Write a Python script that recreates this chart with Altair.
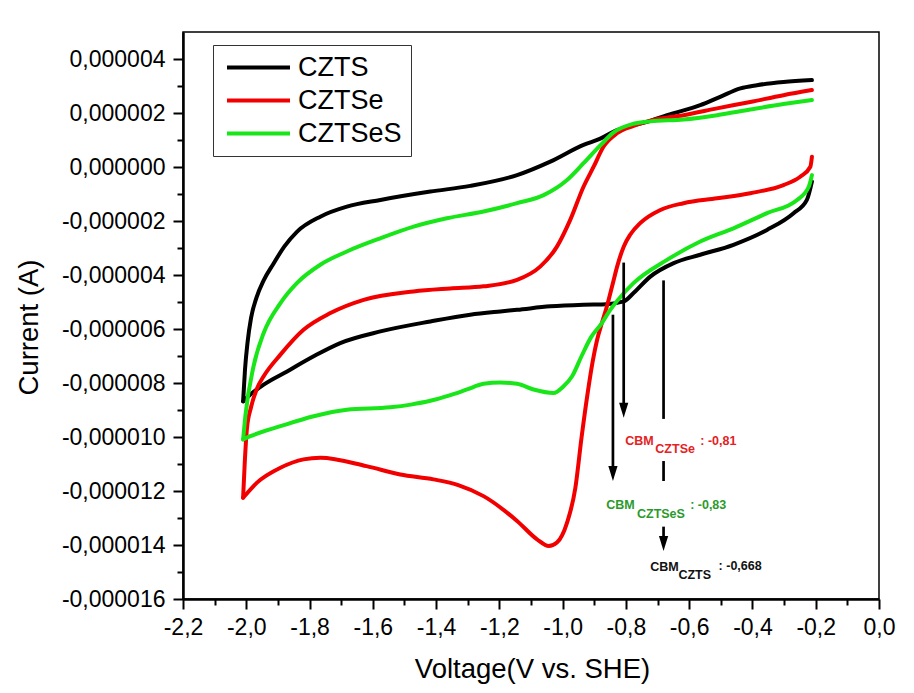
import altair as alt
import pandas as pd

# ---------------- data (current in microampere, voltage in V vs SHE) ----------------
series_names = ["CZTS", "CZTSe", "CZTSeS"]
series_colors = ["#000000", "#f20000", "#19e619"]

czts_fwd_v = [-2.01, -2.004, -1.996, -1.985, -1.968, -1.945, -1.915, -1.88, -1.84, -1.766, -1.682, -1.576,
              -1.418, -1.292, -1.144, -1.039, -0.934, -0.881, -0.828, -0.776, -0.72, -0.67, -0.565, -0.502,
              -0.438, -0.386, -0.302, -0.212]
czts_fwd_i = [-8.68, -7.5, -6.5, -5.6, -4.85, -4.2, -3.6, -2.95, -2.4, -1.84, -1.47, -1.22,
              -0.91, -0.7, -0.3, 0.2, 0.82, 1.05, 1.37, 1.55, 1.72, 1.92, 2.29, 2.6,
              2.91, 3.03, 3.15, 3.22]
czts_rev_v = [-0.212, -0.228, -0.27, -0.354, -0.46, -0.565, -0.649, -0.723, -0.776, -0.807, -0.86, -0.934,
              -1.039, -1.144, -1.197, -1.292, -1.418, -1.576, -1.703, -1.787, -1.871, -1.945, -1.993, -2.01]
czts_rev_i = [-0.54, -1.22, -1.71, -2.33, -2.88, -3.25, -3.56, -4.06, -4.67, -4.98, -5.08, -5.1,
              -5.16, -5.29, -5.35, -5.47, -5.72, -6.09, -6.52, -7.01, -7.57, -8.06, -8.49, -8.68]

cztse_fwd_v = [-2.01, -2.005, -1.998, -1.985, -1.966, -1.945, -1.892, -1.819, -1.734, -1.629, -1.471, -1.355,
               -1.25, -1.144, -1.071, -1.018, -0.976, -0.934, -0.902, -0.871, -0.828, -0.776, -0.723, -0.618,
               -0.512, -0.407, -0.302, -0.212]
cztse_fwd_i = [-12.25, -11.0, -9.7, -8.9, -8.2, -7.75, -6.95, -6.03, -5.41, -4.92, -4.61, -4.5,
               -4.42, -4.18, -3.69, -2.95, -1.96, -0.73, 0.01, 0.75, 1.25, 1.52, 1.72, 1.92,
               2.17, 2.41, 2.66, 2.85]
cztse_rev_v = [-0.212, -0.217, -0.249, -0.302, -0.407, -0.512, -0.618, -0.691, -0.755, -0.786, -0.807, -0.828,
               -0.839, -0.86, -0.876, -0.891, -0.905, -0.92, -0.94, -0.96, -0.986, -1.018, -1.044, -1.081,
               -1.144, -1.25, -1.33, -1.408, -1.513, -1.62, -1.766, -1.819, -1.892, -1.966, -2.01]
cztse_rev_i = [0.38, 0.01, -0.36, -0.67, -0.97, -1.16, -1.34, -1.59, -2.08, -2.5, -2.95, -3.7,
               -4.2, -5.16, -5.78, -6.4, -7.2, -8.3, -10.0, -11.9, -13.17, -13.91, -14.04, -13.79,
               -13.11, -12.19, -11.78, -11.57, -11.39, -11.08, -10.77, -10.83, -11.14, -11.69, -12.25]

cztses_fwd_v = [-2.01, -2.003, -1.977, -1.945, -1.892, -1.84, -1.766, -1.682, -1.576, -1.471, -1.366, -1.25,
                -1.144, -1.06, -0.986, -0.934, -0.881, -0.839, -0.776, -0.723, -0.618, -0.512, -0.407, -0.302,
                -0.212]
cztses_fwd_i = [-10.09, -9.23, -7.38, -6.15, -5.04, -4.3, -3.62, -3.13, -2.64, -2.21, -1.9, -1.65,
                -1.34, -1.04, -0.48, 0.14, 0.8, 1.28, 1.6, 1.69, 1.76, 1.92, 2.13, 2.33,
                2.48]
cztses_rev_v = [-0.212, -0.222, -0.259, -0.354, -0.46, -0.565, -0.67, -0.776, -0.82, -0.85, -0.876, -0.91,
                -0.94, -0.97, -0.997, -1.029, -1.092, -1.144, -1.197, -1.25, -1.302, -1.36, -1.418, -1.48,
                -1.545, -1.682, -1.787, -1.892, -1.987, -2.01]
cztses_rev_i = [-0.3, -0.73, -1.22, -1.71, -2.27, -2.76, -3.44, -4.3, -4.85, -5.3, -5.78, -6.3,
                -7.0, -7.75, -8.12, -8.37, -8.24, -8.03, -7.98, -8.03, -8.24, -8.47, -8.66, -8.8,
                -8.9, -8.99, -9.23, -9.6, -9.97, -10.09]

# axis ticks
x_major = [-2.2, -2.0, -1.8, -1.6, -1.4, -1.2, -1.0, -0.8, -0.6, -0.4, -0.2, 0.0]
x_minor = [-2.1, -1.9, -1.7, -1.5, -1.3, -1.1, -0.9, -0.7, -0.5, -0.3, -0.1]
y_major_ua = [-16, -14, -12, -10, -8, -6, -4, -2, 0, 2, 4]
y_minor_ua = [-15, -13, -11, -9, -7, -5, -3, -1, 1, 3]

# annotation arrows (x in V, currents in microampere)
shaft_x = [-0.807, -0.841, -0.681, -0.681, -0.681]
shaft_top = [-3.54, -5.47, -4.20, -10.89, -13.32]
shaft_bottom = [-9.0, -11.35, -9.33, -11.63, -13.95]
head_x = [-0.807, -0.841, -0.681]
head_tip = [-9.29, -11.63, -14.22]

# annotation labels
label_text = ["CBM", "CZTSe", ": -0,81",
              "CBM", "CZTSeS", ": -0,83",
              "CBM", "CZTS", ": -0,668"]
label_x = [-0.802, -0.707, -0.565,
           -0.862, -0.765, -0.597,
           -0.723, -0.634, -0.507]
label_y = [-10.30, -10.58, -10.28,
           -12.68, -12.99, -12.65,
           -14.96, -15.27, -14.92]
label_color = ["#e4221f"] * 3 + ["#2b9a2b"] * 3 + ["#111111"] * 3

# ---------------- build tables ----------------
rows = []
curves = [
    ("CZTS", czts_fwd_v, czts_fwd_i, czts_rev_v, czts_rev_i),
    ("CZTSe", cztse_fwd_v, cztse_fwd_i, cztse_rev_v, cztse_rev_i),
    ("CZTSeS", cztses_fwd_v, cztses_fwd_i, cztses_rev_v, cztses_rev_i),
]
for name, fv, fi, rv, ri in curves:
    for v, i in zip(fv, fi):
        rows.append({"series": name, "branch": name + "_fwd", "V": v, "I": i * 1e-6})
    for v, i in zip(rv, ri):
        rows.append({"series": name, "branch": name + "_rev", "V": v, "I": i * 1e-6})
df = pd.DataFrame(rows)

shafts = pd.DataFrame({"x": shaft_x, "y1": [v * 1e-6 for v in shaft_top],
                       "y2": [v * 1e-6 for v in shaft_bottom]})
heads = pd.DataFrame({"x": head_x, "y": [v * 1e-6 for v in head_tip]})
labels = pd.DataFrame({"x": label_x, "y": [v * 1e-6 for v in label_y],
                       "t": label_text, "c": label_color})

FONT = "Liberation Sans"
xdom = [-2.2, 0.0]
ydom = [-16e-6, 5e-6]
xscale = alt.Scale(domain=xdom, nice=False, zero=False)
yscale = alt.Scale(domain=ydom, nice=False, zero=False)

x_major_axis = alt.Axis(
    values=x_major, orient="bottom",
    labelExpr="replace(replace(format(datum.value, '.1f'), '.', ','), '−', '-')",
    tickSize=10, tickWidth=2, tickColor="black",
    domainWidth=2.5, domainColor="black",
    labelFont=FONT, labelFontSize=23, labelColor="black", labelPadding=7,
    labelFlush=False, labelOverlap=False,
    grid=False,
    title="Voltage(V vs. SHE)", titleFont=FONT, titleFontSize=27.5, titleFontWeight="normal",
    titleColor="black", titleX=349, titleY=78, titleAlign="center", titleBaseline="alphabetic",
)
y_major_axis = alt.Axis(
    values=[v * 1e-6 for v in y_major_ua], orient="left",
    labelExpr="replace(replace(format(datum.value, '.6f'), '.', ','), '−', '-')",
    tickSize=10, tickWidth=2, tickColor="black",
    domainWidth=2.5, domainColor="black",
    labelFont=FONT, labelFontSize=23, labelColor="black", labelPadding=8,
    labelFlush=False, labelOverlap=False,
    grid=False,
    title="Current (A)", titleFont=FONT, titleFontSize=27.5, titleFontWeight="normal",
    titleColor="black", titleX=-146, titleY=295, titleAngle=270, titleAlign="center",
    titleBaseline="alphabetic",
)
x_minor_axis = alt.Axis(values=x_minor, orient="bottom", labels=False, tickSize=6, tickWidth=2,
                        tickColor="black", domain=False, grid=False, title=None)
y_minor_axis = alt.Axis(values=[v * 1e-6 for v in y_minor_ua], orient="left", labels=False,
                        tickSize=6, tickWidth=2, tickColor="black", domain=False, grid=False,
                        title=None)

legend = alt.Legend(
    title=None, orient="none", legendX=30, legendY=13,
    symbolType="M-0.944,0H6.056", symbolSize=324, symbolStrokeWidth=4,
    labelFont=FONT, labelFontSize=27, labelColor="black", labelOffset=49,
    padding=9, rowPadding=5, fillColor="white", strokeColor="#333333",
)

lines = alt.Chart(df).mark_line(strokeWidth=4, interpolate="monotone",
                                strokeCap="round", strokeJoin="round").encode(
    x=alt.X("V:Q", scale=xscale, axis=x_major_axis),
    y=alt.Y("I:Q", scale=yscale, axis=y_major_axis),
    color=alt.Color("series:N", scale=alt.Scale(domain=series_names, range=series_colors),
                    legend=legend, sort=series_names),
    detail="branch:N",
)

rules = alt.Chart(shafts).mark_rule(strokeWidth=2.7, color="black").encode(
    x=alt.X("x:Q", scale=xscale, axis=x_minor_axis),
    y=alt.Y("y1:Q", scale=yscale, axis=y_minor_axis),
    y2="y2:Q",
)

arrowheads = alt.Chart(heads).mark_point(
    shape="M-1.15,-3.75L1.15,-3.75L0,0Z", size=64, filled=True, color="black", opacity=1,
    strokeWidth=0).encode(
    x=alt.X("x:Q", scale=xscale, axis=None),
    y=alt.Y("y:Q", scale=yscale, axis=None),
)

texts = alt.Chart(labels).mark_text(
    align="left", baseline="alphabetic", font=FONT, fontWeight="bold", fontSize=12.5).encode(
    x=alt.X("x:Q", scale=xscale, axis=None),
    y=alt.Y("y:Q", scale=yscale, axis=None),
    text="t:N",
    color=alt.Color("c:N", scale=None, legend=None),
)

chart = alt.layer(lines, rules, arrowheads, texts).resolve_axis(
    x="independent", y="independent"
).resolve_scale(color="independent").properties(
    width=696, height=567,
    autosize=alt.AutoSizeParams(type="none"),
    padding={"left": 183, "top": 32, "right": 35, "bottom": 94},
    background="white",
).configure_view(stroke="black", strokeWidth=1.5)

chart.save("out.html", embed_options={"renderer": "svg", "actions": False})
